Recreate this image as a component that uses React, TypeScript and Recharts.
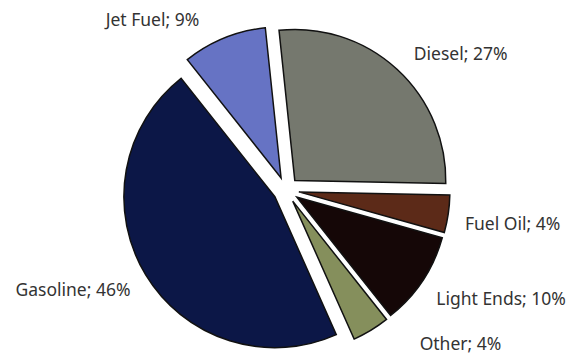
import React from 'react';
import { PieChart, Pie, Cell, Sector } from 'recharts';

// Refinery product yield, share of barrel (%)
const products = ['Diesel', 'Fuel Oil', 'Light Ends', 'Other', 'Gasoline', 'Jet Fuel'];
const shares = [27, 4, 10, 4, 46, 9];
const sliceColors = ['#75786e', '#5c2a18', '#150707', '#858f5c', '#0c1747', '#6673c4'];

// nudges for the data labels, relative to their radial spot
const labelNudge: [number, number][] = [
  [25, 26],
  [8, 1],
  [31, -14],
  [60, -36],
  [-24, -15],
  [-50, 34],
];

const data = products.map((name, i) => ({ name, value: shares[i] }));

const RAD = Math.PI / 180;
const EXPLODE = 13;

const ExplodedSector = (props: any) => {
  const { cx, cy, midAngle } = props;
  const dx = EXPLODE * Math.cos(midAngle * RAD);
  const dy = -EXPLODE * Math.sin(midAngle * RAD);
  return <Sector {...props} cx={cx + dx} cy={cy + dy} />;
};

const renderLabel = (props: any) => {
  const { cx, cy, midAngle, outerRadius, index, name, value } = props;
  const r = outerRadius + 70;
  const [nx, ny] = labelNudge[index];
  const x = cx + r * Math.cos(midAngle * RAD) + nx;
  const y = cy - r * Math.sin(midAngle * RAD) + ny;
  return (
    <text
      x={x}
      y={y}
      textAnchor="middle"
      dominantBaseline="central"
      fill="#333"
      fontSize={17.5}
      fontFamily="'Noto Sans', sans-serif"
    >
      {`${name}; ${value}%`}
    </text>
  );
};

export default function App() {
  return (
    <div style={{ position: 'absolute', left: 0, top: 0, width: 571, height: 360, background: '#fff' }}>
      <PieChart width={571} height={360} margin={{ top: 0, right: 0, bottom: 0, left: 0 }}>
        <Pie
          data={data}
          dataKey="value"
          nameKey="name"
          cx={286}
          cy={190}
          outerRadius={151}
          startAngle={96}
          endAngle={-264}
          shape={ExplodedSector}
          label={renderLabel}
          labelLine={false}
          isAnimationActive={false}
        >
          {data.map((entry, i) => (
            <Cell key={entry.name} fill={sliceColors[i]} stroke="#111" strokeWidth={1.5} />
          ))}
        </Pie>
      </PieChart>
    </div>
  );
}
